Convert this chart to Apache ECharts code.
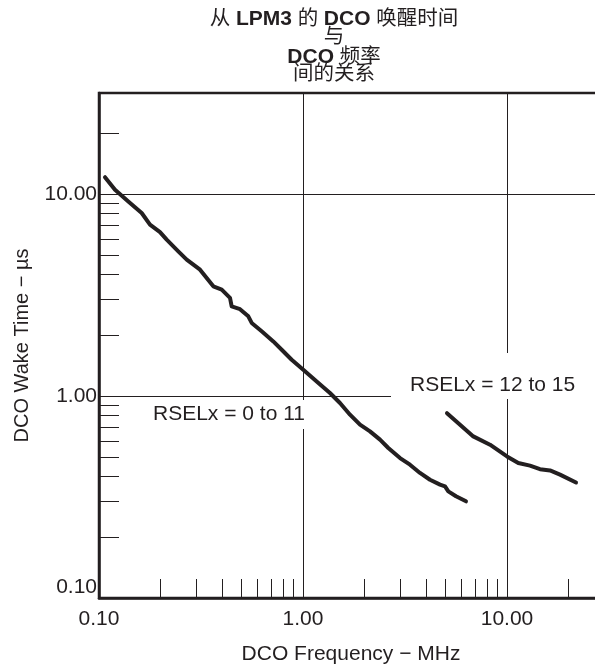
<!DOCTYPE html>
<html><head><meta charset="utf-8">
<script src="https://cdn.jsdelivr.net/npm/echarts@6/dist/echarts.min.js"></script>
<style>html,body{margin:0;padding:0;background:#fff}#c{width:595px;height:668px}</style>
</head><body><div id="c"></div>
<script>
// ---- data ----
const titleLines = ['从 {b|LPM3} 的 {b|DCO} 唤醒时间', '与', '{b|DCO} 频率', '间的关系'];
const xAxisTitle = 'DCO Frequency − MHz';
const yAxisTitle = 'DCO Wake Time − µs';
const decadeLabels = [0.1, 1, 10];
const minorTickValues = [0.2, 0.3, 0.4, 0.5, 0.6, 0.7, 0.8, 0.9, 2, 3, 4, 5, 6, 7, 8, 9, 20];
const xRange = [0.1, 100];
const yRange = [0.1, 31.62];

const rselLowName = 'RSELx = 0 to 11';
const rselLowFreq = [0.107, 0.1198, 0.1392, 0.1619, 0.1778, 0.1991, 0.2147, 0.2447, 0.2691, 0.3128,
  0.3634, 0.3996, 0.4387, 0.4471, 0.4912, 0.5394, 0.5605, 0.6272, 0.7151, 0.7863, 0.88, 1.003,
  1.167, 1.356, 1.518, 1.7, 1.903, 2.13, 2.385, 2.619, 2.99, 3.345, 3.745, 4.193, 4.695, 4.968,
  5.156, 5.623, 6.295];
const rselLowTime = [12.11, 10.5, 9.19, 8.05, 7.05, 6.47, 5.94, 5.2, 4.73, 4.22,
  3.49, 3.36, 3.06, 2.78, 2.69, 2.48, 2.3, 2.09, 1.863, 1.695, 1.512, 1.349,
  1.181, 1.035, 0.923, 0.808, 0.721, 0.668, 0.608, 0.553, 0.493, 0.457, 0.416, 0.385, 0.364, 0.357,
  0.337, 0.319, 0.301];

const rselHighName = 'RSELx = 12 to 15';
const rselHighFreq = [5.08, 5.885, 6.836, 8.254, 10.0, 11.36, 12.96, 14.51, 16.25, 18.19, 21.79];
const rselHighTime = [0.822, 0.721, 0.631, 0.574, 0.502, 0.466, 0.452, 0.434, 0.428, 0.408, 0.373];

// ---- chart ----
const INK = '#231f20';
const LATIN = '"Liberation Sans", Arial, sans-serif';
const CJK = '"Liberation Sans", "Noto Sans CJK SC", sans-serif';
const isDecade = v => Math.abs(Math.log10(v) - Math.round(Math.log10(v))) < 1e-6;
const zip = (a, b) => a.map((v, i) => [v, b[i]]);

const chart = echarts.init(document.getElementById('c'), null, {renderer: 'canvas'});

const titleY = [19, 37.5, 57.5, 74];
const graphics = titleLines.map((t, i) => ({
  type: 'text', z: 10,
  style: {
    text: t, x: 334, y: titleY[i], align: 'center', verticalAlign: 'middle',
    fontSize: 20.5, fontFamily: CJK, fill: INK,
    rich: {b: {fontWeight: 'bold', fontSize: 21, fontFamily: LATIN, fill: INK}}
  }
}));
graphics.push({
  type: 'text', z: 10,
  style: {text: xAxisTitle, x: 351, y: 654, align: 'center', verticalAlign: 'middle',
    fontSize: 21, fontFamily: LATIN, fill: INK}
});
graphics.push({
  type: 'text', z: 10, x: 22, y: 345.5, rotation: Math.PI / 2,
  style: {text: yAxisTitle, x: 0, y: 0, align: 'center', verticalAlign: 'middle',
    fontSize: 20, fontFamily: LATIN, fill: INK}
});
graphics.push({
  type: 'text', z: 1,
  style: {text: rselLowName, x: 148, y: 400, align: 'left', verticalAlign: 'top',
    fontSize: 21, fontFamily: LATIN, fill: INK, backgroundColor: '#fff', padding: [4, 4, 4, 5]}
});
graphics.push({
  type: 'text', z: 1,
  style: {text: rselHighName, x: 391, y: 353, align: 'left', verticalAlign: 'top',
    fontSize: 21, fontFamily: LATIN, fill: INK, backgroundColor: '#fff', padding: [22, 30, 3, 19]}
});

const baseLog = (extra) => Object.assign({type: 'log', logBase: 10}, extra);

chart.setOption({
  animation: false,
  backgroundColor: '#fff',
  grid: {left: 99, top: 93, bottom: 70, right: -116, outerBoundsMode: 'none', containLabel: false,
    show: true, borderWidth: 2.5, borderColor: INK, backgroundColor: 'transparent'},
  xAxis: [
    baseLog({
      min: xRange[0], max: xRange[1], position: 'bottom',
      axisLine: {show: true, onZero: false, lineStyle: {color: INK, width: 2.5}},
      axisTick: {show: true, inside: true, length: 19, customValues: minorTickValues, lineStyle: {color: INK, width: 1}},
      axisLabel: {show: true, margin: 11, fontSize: 21, fontFamily: LATIN, color: INK,
        customValues: decadeLabels, formatter: v => isDecade(v) ? v.toFixed(2) : ''},
      splitLine: {show: false}
    }),
    baseLog({
      min: xRange[0], max: xRange[1], position: 'top',
      axisLine: {show: false, onZero: false}, axisTick: {show: false}, axisLabel: {show: false},
      splitLine: {show: true, lineStyle: {color: INK, width: 1}}
    })
  ],
  yAxis: [
    baseLog({
      min: yRange[0], max: yRange[1], position: 'left',
      axisLine: {show: true, onZero: false, lineStyle: {color: INK, width: 2.5}},
      axisTick: {show: true, inside: true, length: 20, customValues: minorTickValues, lineStyle: {color: INK, width: 1}},
      axisLabel: {show: true, margin: 2, fontSize: 21, fontFamily: LATIN, color: INK,
        verticalAlignMinLabel: 'bottom',
        formatter: v => isDecade(v) ? v.toFixed(2) : ''},
      splitLine: {show: false}
    }),
    baseLog({
      min: yRange[0], max: yRange[1], position: 'right',
      axisLine: {show: false, onZero: false}, axisTick: {show: false}, axisLabel: {show: false},
      splitLine: {show: true, lineStyle: {color: INK, width: 1}}
    })
  ],
  series: [
    {name: rselLowName, type: 'line', xAxisIndex: 0, yAxisIndex: 0, data: zip(rselLowFreq, rselLowTime),
      showSymbol: false, symbol: 'none', smooth: false, z: 3,
      lineStyle: {color: INK, width: 4, cap: 'round', join: 'round'}, emphasis: {disabled: true}},
    {name: rselHighName, type: 'line', xAxisIndex: 0, yAxisIndex: 0, data: zip(rselHighFreq, rselHighTime),
      showSymbol: false, symbol: 'none', smooth: false, z: 3,
      lineStyle: {color: INK, width: 4, cap: 'round', join: 'round'}, emphasis: {disabled: true}}
  ],
  graphic: graphics
});
</script></body></html>
